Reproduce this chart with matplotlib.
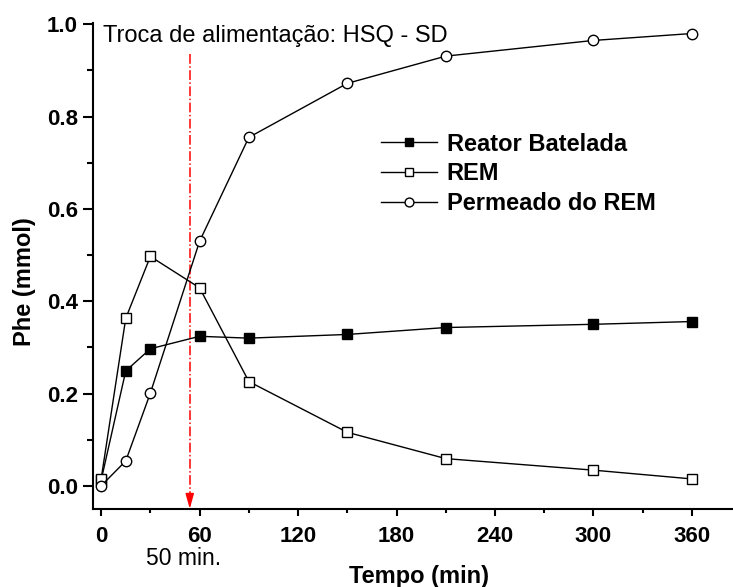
import matplotlib.pyplot as plt
from matplotlib.ticker import MultipleLocator

plt.rcParams['font.family'] = ['Liberation Sans', 'DejaVu Sans']

tempo = [0, 15, 30, 60, 90, 150, 210, 300, 360]
reator_batelada = [0.012, 0.249, 0.297, 0.324, 0.320, 0.328, 0.343, 0.350, 0.356]
rem = [0.015, 0.363, 0.497, 0.429, 0.226, 0.116, 0.059, 0.034, 0.015]
permeado = [0.0, 0.054, 0.201, 0.530, 0.755, 0.872, 0.931, 0.965, 0.980]

troca_x = 54
troca_label = 'Troca de alimentação: HSQ - SD'

fig = plt.figure(figsize=(7.33, 5.87), dpi=100)
ax = fig.add_axes([0.127, 0.133, 0.873, 0.828])

ax.plot(tempo, reator_batelada, '-s', color='black', lw=1, ms=6.5,
        mfc='black', mec='black', label='Reator Batelada', zorder=3)
ax.plot(tempo, rem, '-s', color='black', lw=1, ms=6.5,
        mfc='white', mec='black', label='REM', zorder=3)
ax.plot(tempo, permeado, '-o', color='black', lw=1, ms=7.5,
        mfc='white', mec='black', label='Permeado do REM', zorder=3)

# linha da troca de alimentacao
ax.plot([troca_x, troca_x], [0.935, -0.035], color='red', ls='-.', lw=1.1, zorder=2)
ax.annotate('', xy=(troca_x, -0.05), xytext=(troca_x, -0.02),
            arrowprops=dict(arrowstyle='-|>,head_length=0.9,head_width=0.25',
                            color='red', lw=1.1, shrinkA=0, shrinkB=0),
            annotation_clip=False)
ax.text(1, 0.975, troca_label, fontsize=17, va='center', ha='left')
ax.text(50, -0.157, '50 min.', fontsize=16.5, va='center', ha='center', clip_on=False)

ax.set_xlim(-4.9, 385)
ax.set_ylim(-0.05, 1.003)
ax.xaxis.set_major_locator(MultipleLocator(60))
ax.xaxis.set_minor_locator(MultipleLocator(30))
ax.yaxis.set_minor_locator(MultipleLocator(0.1))
ax.set_yticks([0.0, 0.2, 0.4, 0.6, 0.8, 1.0])
ax.set_yticklabels(['0.0', '0.2', '0.4', '0.6', '0.8', '1.0'])

for s in ['top', 'right']:
    ax.spines[s].set_visible(False)
for s in ['left', 'bottom']:
    ax.spines[s].set_linewidth(1.5)

ax.tick_params(axis='both', which='major', direction='out', width=1.5,
               labelsize=16, length=5, pad=4)
ax.tick_params(axis='both', which='minor', direction='out', width=1.5, length=3.2)
ax.tick_params(axis='x', which='major', pad=7)
ax.tick_params(axis='y', which='major', length=7)
ax.tick_params(axis='y', which='minor', length=4.5)
for lab in ax.get_xticklabels() + ax.get_yticklabels():
    lab.set_fontweight('bold')

ax.set_xlabel('Tempo (min)', fontsize=17, fontweight='bold', labelpad=13)
ax.set_ylabel('Phe (mmol)', fontsize=17, fontweight='bold', labelpad=8)
ax.xaxis.label.set_x(0.51)
ax.yaxis.label.set_y(0.467)

leg = ax.legend(loc='upper left', bbox_to_anchor=(0.416, 0.818), frameon=False,
                prop={'weight': 'bold', 'size': 17}, handlelength=2.4,
                handletextpad=0.4, labelspacing=0.28, markerscale=0.85)

fig.savefig('out.png', dpi=100)
